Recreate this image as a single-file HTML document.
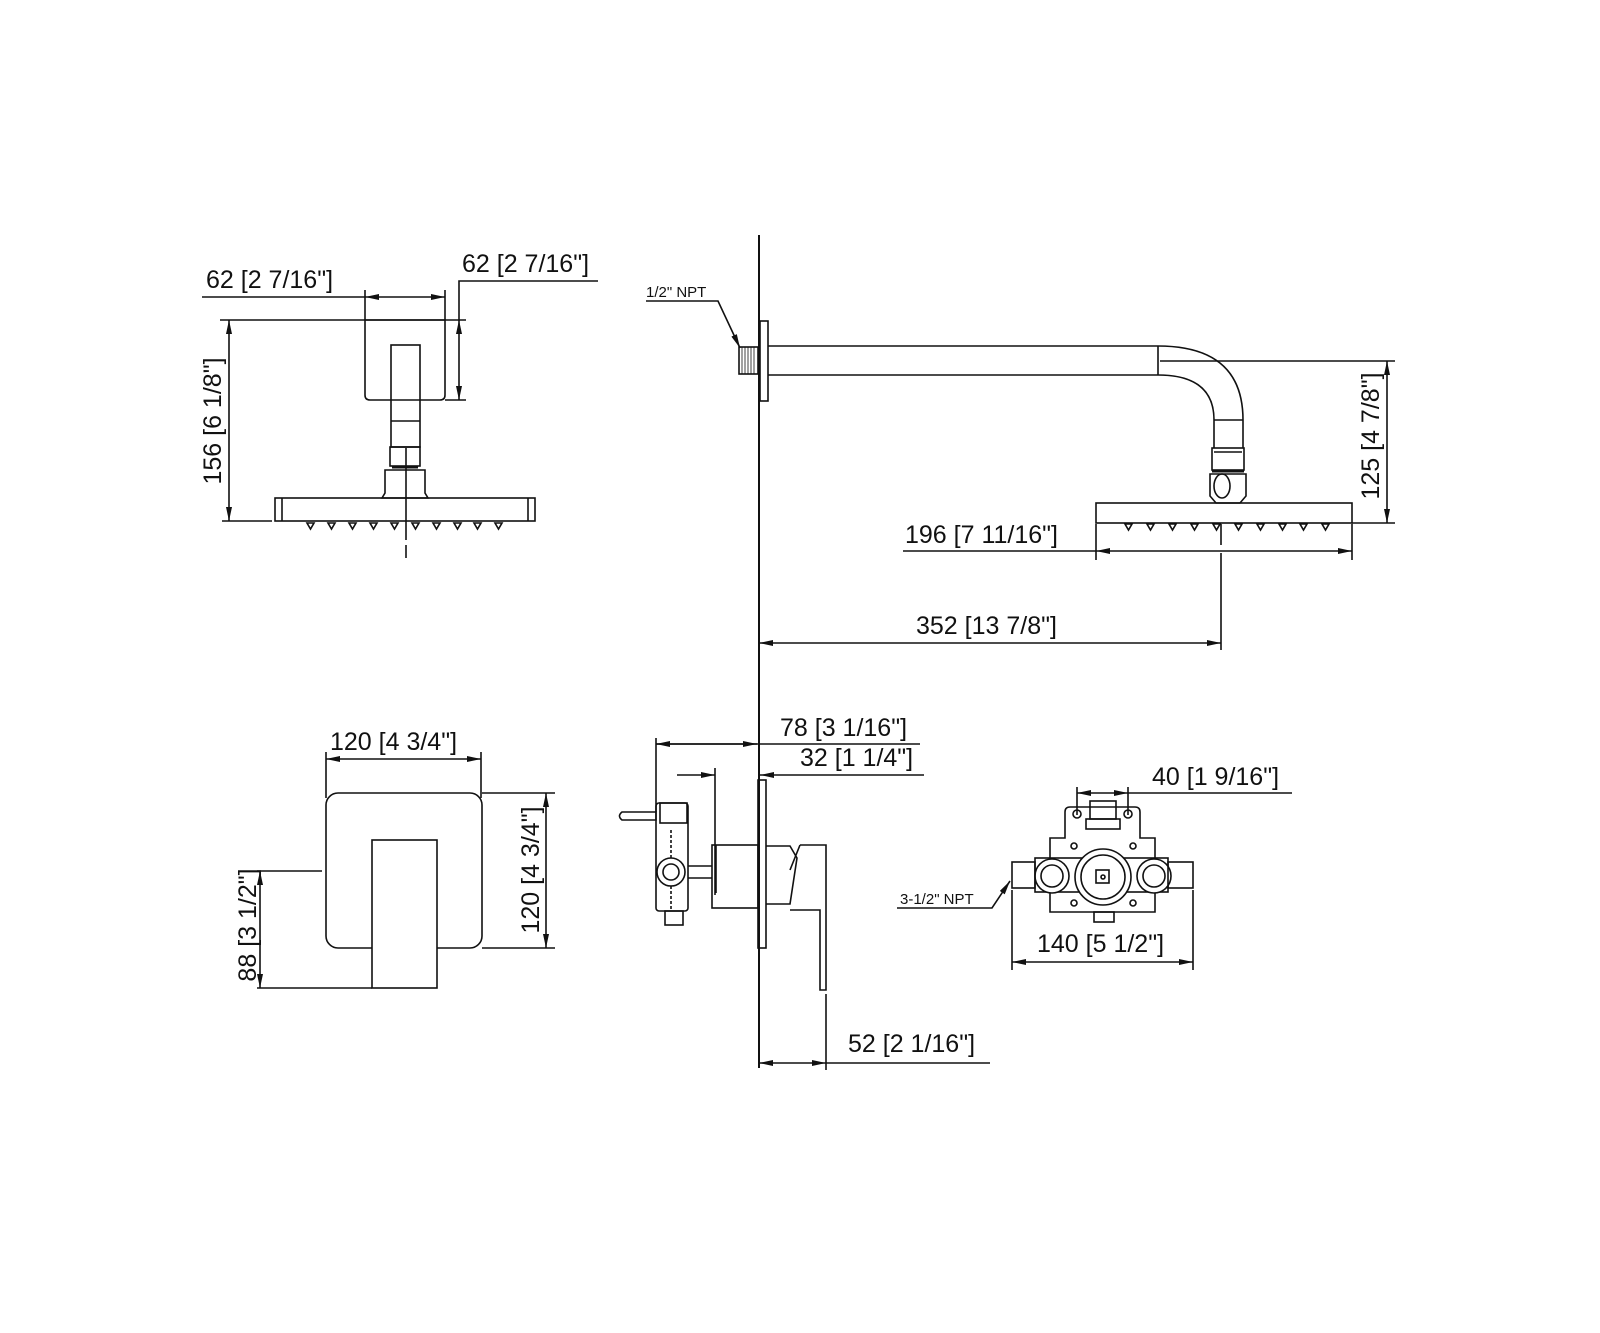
<!DOCTYPE html>
<html><head><meta charset="utf-8"><style>
html,body{margin:0;padding:0;background:#fff;}
svg{display:block;}
text{font-family:"Liberation Sans",sans-serif;fill:#111;}
</style></head><body>
<svg width="1600" height="1333" viewBox="0 0 1600 1333" xmlns="http://www.w3.org/2000/svg">
<defs>
<marker id="a" viewBox="0 0 14 6" refX="14" refY="3" markerWidth="14" markerHeight="6" markerUnits="userSpaceOnUse" orient="auto-start-reverse"><path d="M0,0 L14,3 L0,6 Z" fill="#111"/></marker>
</defs>
<g stroke="#111" stroke-width="1.6" fill="none">
<!-- wall -->
<line x1="759" y1="235" x2="759" y2="1068" stroke-width="2"/>

<!-- ===== top-left view ===== -->
<line x1="202" y1="297" x2="365" y2="297"/>
<line x1="365" y1="297" x2="445" y2="297" marker-start="url(#a)" marker-end="url(#a)"/>
<line x1="365" y1="290" x2="365" y2="320"/>
<line x1="445" y1="290" x2="445" y2="320"/>
<polyline points="598,281 459,281 459,320"/>
<line x1="459" y1="320" x2="459" y2="400" marker-start="url(#a)" marker-end="url(#a)"/>
<line x1="220" y1="320" x2="466" y2="320"/>
<line x1="445" y1="400" x2="466" y2="400"/>
<path d="M365,320 H445 V395 Q445,400 440,400 H370 Q365,400 365,395 Z"/>
<rect x="391" y="345" width="29" height="102"/>
<line x1="391" y1="421" x2="420" y2="421"/>
<rect x="390" y="447" width="30" height="19"/>
<line x1="392" y1="467" x2="418" y2="467" stroke-width="3"/>
<path d="M385,470 H425 V493 L428,498 H382 L385,493 Z"/>
<rect x="275" y="498" width="260" height="23"/>
<line x1="282" y1="498" x2="282" y2="521"/><line x1="528" y1="498" x2="528" y2="521"/>
<g fill="#fff">
<path d="M307,523 h7 l-3.5,6 z"/><path d="M328,523 h7 l-3.5,6 z"/><path d="M349,523 h7 l-3.5,6 z"/><path d="M370,523 h7 l-3.5,6 z"/><path d="M391,523 h7 l-3.5,6 z"/><path d="M412,523 h7 l-3.5,6 z"/><path d="M433,523 h7 l-3.5,6 z"/><path d="M454,523 h7 l-3.5,6 z"/><path d="M474,523 h7 l-3.5,6 z"/><path d="M495,523 h7 l-3.5,6 z"/>
</g>
<line x1="406" y1="448" x2="406" y2="540"/><line x1="406" y1="545" x2="406" y2="558"/>
<line x1="229" y1="320" x2="229" y2="521" marker-start="url(#a)" marker-end="url(#a)"/>
<line x1="222" y1="521" x2="272" y2="521"/>

<!-- ===== top-right view ===== -->
<polyline points="646,301 718,301 740,348" marker-end="url(#a)"/>
<rect x="760" y="321" width="8" height="80"/>
<rect x="739" y="347" width="19" height="27"/>
<g stroke-width="0.8"><line x1="742" y1="347" x2="742" y2="374"/><line x1="745" y1="347" x2="745" y2="374"/><line x1="748" y1="347" x2="748" y2="374"/><line x1="751" y1="347" x2="751" y2="374"/><line x1="754" y1="347" x2="754" y2="374"/></g>
<line x1="768" y1="346" x2="1158" y2="346"/>
<line x1="768" y1="375" x2="1158" y2="375"/>
<line x1="1158" y1="346" x2="1158" y2="375"/>
<path d="M1158,346 Q1243,346 1243,420 V448"/>
<path d="M1158,375 Q1214,375 1214,420 V448"/>
<line x1="1214" y1="420" x2="1243" y2="420"/>
<rect x="1212" y="448" width="32" height="22"/>
<line x1="1214" y1="452" x2="1242" y2="452"/>
<line x1="1212" y1="471" x2="1244" y2="471" stroke-width="3"/>
<path d="M1210,474 H1246 V496 L1240,503 H1216 L1210,496 Z"/>
<ellipse cx="1222" cy="486" rx="8" ry="12"/>
<rect x="1096" y="503" width="256" height="20"/>
<g fill="#fff">
<path d="M1125,524 h7 l-3.5,6 z"/><path d="M1147,524 h7 l-3.5,6 z"/><path d="M1169,524 h7 l-3.5,6 z"/><path d="M1191,524 h7 l-3.5,6 z"/><path d="M1213,524 h7 l-3.5,6 z"/><path d="M1235,524 h7 l-3.5,6 z"/><path d="M1257,524 h7 l-3.5,6 z"/><path d="M1279,524 h7 l-3.5,6 z"/><path d="M1300,524 h7 l-3.5,6 z"/><path d="M1322,524 h7 l-3.5,6 z"/>
</g>
<line x1="1160" y1="361" x2="1395" y2="361"/>
<line x1="1387" y1="361" x2="1387" y2="523" marker-start="url(#a)" marker-end="url(#a)"/>
<line x1="1352" y1="523" x2="1395" y2="523"/>
<line x1="903" y1="551" x2="1096" y2="551"/>
<line x1="1096" y1="551" x2="1352" y2="551" marker-start="url(#a)" marker-end="url(#a)"/>
<line x1="1096" y1="524" x2="1096" y2="560"/><line x1="1352" y1="524" x2="1352" y2="560"/>
<line x1="1221" y1="524" x2="1221" y2="545"/><line x1="1221" y1="553" x2="1221" y2="650"/>
<line x1="759" y1="643" x2="1221" y2="643" marker-start="url(#a)" marker-end="url(#a)"/>

<!-- ===== bottom-left view ===== -->
<line x1="326" y1="759" x2="481" y2="759" marker-start="url(#a)" marker-end="url(#a)"/>
<line x1="326" y1="752" x2="326" y2="798"/><line x1="481" y1="752" x2="481" y2="798"/>
<rect x="326" y="793" width="156" height="155" rx="12"/>
<rect x="372" y="840" width="65" height="148" fill="#fff"/>
<line x1="482" y1="793" x2="555" y2="793"/><line x1="482" y1="948" x2="555" y2="948"/>
<line x1="546" y1="793" x2="546" y2="948" marker-start="url(#a)" marker-end="url(#a)"/>
<line x1="257" y1="871" x2="322" y2="871"/>
<line x1="260" y1="871" x2="260" y2="988" marker-start="url(#a)" marker-end="url(#a)"/>
<line x1="257" y1="988" x2="372" y2="988"/>

<!-- ===== bottom-middle view ===== -->
<line x1="656" y1="744" x2="920" y2="744"/>
<line x1="656" y1="744" x2="757" y2="744" marker-start="url(#a)" marker-end="url(#a)"/>
<line x1="656" y1="738" x2="656" y2="812"/>
<line x1="677" y1="775" x2="715" y2="775" marker-end="url(#a)"/>
<line x1="924" y1="775" x2="760" y2="775" marker-end="url(#a)"/>
<line x1="715" y1="768" x2="715" y2="895"/>
<rect x="758" y="780" width="8" height="168"/>
<rect x="712" y="845" width="46" height="63"/>
<line x1="716" y1="845" x2="716" y2="893"/>
<path d="M766,846 H790 L797,858 L790,904 H766"/>
<path d="M800,845 H826 V990 H820 V910 H790"/>
<line x1="800" y1="845" x2="790" y2="870"/>
<rect x="656" y="803" width="32" height="108" rx="3"/>
<rect x="660" y="803" width="27" height="20"/>
<path d="M622,812 H656 V820 H622 Q617,816 622,812 Z"/>
<circle cx="671" cy="872" r="14"/><circle cx="671" cy="872" r="8"/>
<line x1="688" y1="866" x2="712" y2="866"/><line x1="688" y1="878" x2="712" y2="878"/>
<rect x="665" y="911" width="18" height="14"/>
<line x1="671" y1="830" x2="671" y2="858" stroke-dasharray="3 2"/>
<line x1="671" y1="886" x2="671" y2="910" stroke-dasharray="3 2"/>
<line x1="826" y1="994" x2="826" y2="1070"/>
<line x1="759" y1="1063" x2="826" y2="1063" marker-start="url(#a)" marker-end="url(#a)"/>
<line x1="826" y1="1063" x2="990" y2="1063"/>

<!-- ===== bottom-right view ===== -->
<line x1="1077" y1="793" x2="1128" y2="793" marker-start="url(#a)" marker-end="url(#a)"/>
<line x1="1128" y1="793" x2="1292" y2="793"/>
<line x1="1077" y1="787" x2="1077" y2="815"/><line x1="1128" y1="787" x2="1128" y2="815"/>
<path d="M1065,812 Q1065,807 1070,807 H1135 Q1140,807 1140,812 V838 H1155 V912 H1050 V838 H1065 Z"/>
<circle cx="1077" cy="814" r="4"/><circle cx="1128" cy="814" r="4"/>
<rect x="1090" y="801" width="26" height="18"/>
<rect x="1086" y="819" width="34" height="10"/>
<circle cx="1074" cy="846" r="3"/><circle cx="1133" cy="846" r="3"/>
<circle cx="1074" cy="903" r="3"/><circle cx="1133" cy="903" r="3"/>
<rect x="1035" y="858" width="133" height="34" fill="#fff"/>
<circle cx="1103" cy="877" r="28" fill="#fff"/><circle cx="1103" cy="877" r="22"/>
<rect x="1096" y="870" width="13" height="13"/><circle cx="1103" cy="877" r="2"/>
<circle cx="1052" cy="876" r="17" fill="#fff"/><circle cx="1052" cy="876" r="11"/>
<circle cx="1154" cy="876" r="17" fill="#fff"/><circle cx="1154" cy="876" r="11"/>
<rect x="1012" y="862" width="23" height="26"/><rect x="1168" y="862" width="25" height="26"/>
<rect x="1094" y="912" width="20" height="10"/>
<polyline points="897,908 992,908 1010,881" marker-end="url(#a)"/>
<line x1="1012" y1="890" x2="1012" y2="970"/><line x1="1193" y1="890" x2="1193" y2="970"/>
<line x1="1012" y1="962" x2="1193" y2="962" marker-start="url(#a)" marker-end="url(#a)"/>
</g>

<!-- text -->
<g font-size="25">
<text x="206" y="288">62 [2 7/16"]</text>
<text x="462" y="272">62 [2 7/16"]</text>
<text transform="translate(221,421) rotate(-90)" text-anchor="middle">156 [6 1/8"]</text>
<text x="905" y="543">196 [7 11/16"]</text>
<text x="916" y="634">352 [13 7/8"]</text>
<text transform="translate(1379,436) rotate(-90)" text-anchor="middle">125 [4 7/8"]</text>
<text x="330" y="750">120 [4 3/4"]</text>
<text transform="translate(539,870) rotate(-90)" text-anchor="middle">120 [4 3/4"]</text>
<text transform="translate(256,925) rotate(-90)" text-anchor="middle">88 [3 1/2"]</text>
<text x="780" y="736">78 [3 1/16"]</text>
<text x="800" y="766">32 [1 1/4"]</text>
<text x="848" y="1052">52 [2 1/16"]</text>
<text x="1152" y="785">40 [1 9/16"]</text>
<text x="1037" y="952">140 [5 1/2"]</text>
</g>
<text x="646" y="297" font-size="15">1/2" NPT</text>
<text x="900" y="904" font-size="15">3-1/2" NPT</text>
</svg>
</body></html>
